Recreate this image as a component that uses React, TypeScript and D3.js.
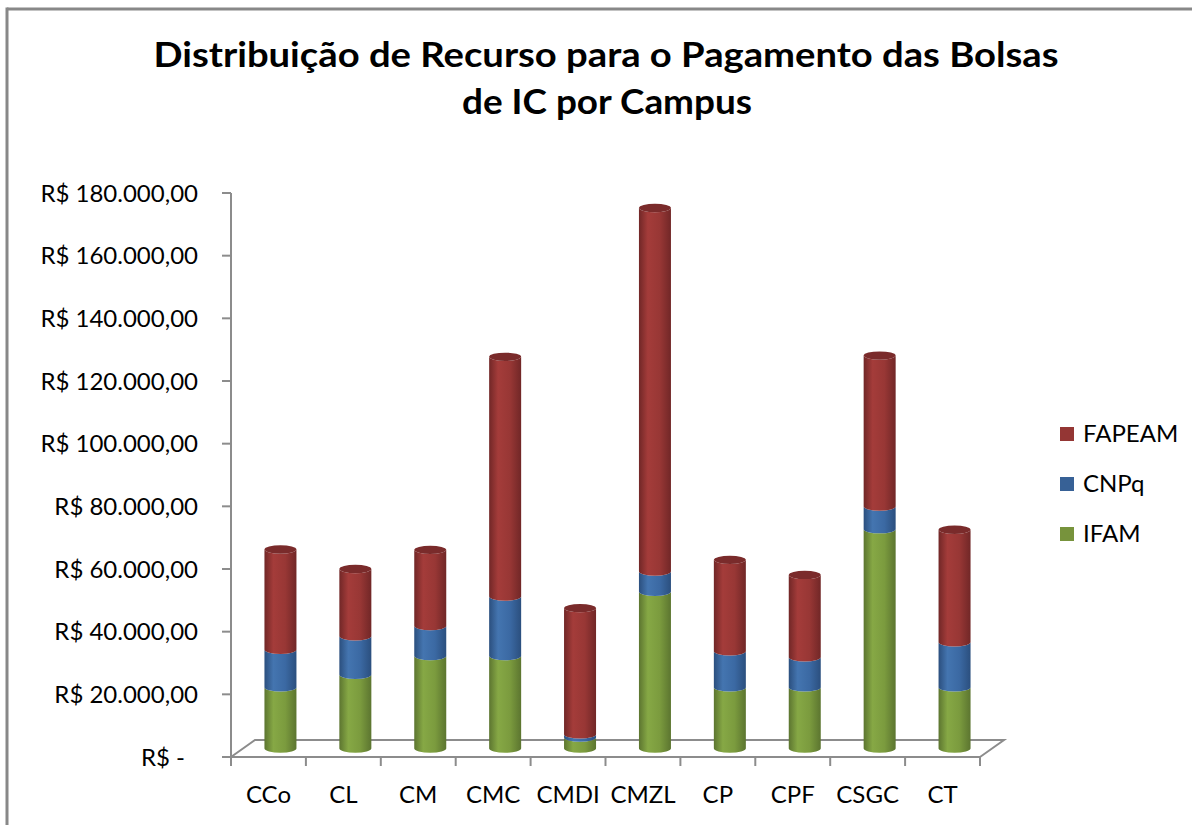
import React from "react";
import * as d3 from "d3";

const title1 = "Distribuição de Recurso para o Pagamento das Bolsas";
const title2 = "de IC por Campus";
const categories = ["CCo", "CL", "CM", "CMC", "CMDI", "CMZL", "CP", "CPF", "CSGC", "CT"];
const ifam = [19500, 23500, 29500, 29500, 3500, 50000, 19500, 19500, 70000, 19500];
const cnpq = [12000, 12300, 9600, 19000, 1000, 6500, 11500, 9600, 7200, 14400];
const fapeam = [32000, 21500, 24300, 76500, 40300, 116000, 29200, 26300, 48200, 35900];
const seriesNames = ["IFAM", "CNPq", "FAPEAM"];
const yTicks = [0, 20000, 40000, 60000, 80000, 100000, 120000, 140000, 160000, 180000];

const palette: Record<string, { dark: string; light: string; mid: string; top: string; legend: string }> = {
  IFAM: { dark: "#5c7530", light: "#86a845", mid: "#7b9b3e", top: "#6a8736", legend: "#77933c" },
  CNPq: { dark: "#2b4f7e", light: "#4475b0", mid: "#3b69a3", top: "#32598c", legend: "#376196" },
  FAPEAM: { dark: "#712727", light: "#a43c3a", mid: "#983735", top: "#7a2b2b", legend: "#943634" },
};

const fmt = (v: number) =>
  v === 0
    ? "R$ -"
    : "R$ " + d3.format(",.2f")(v).replace(/,/g, "#").replace(/\./g, ",").replace(/#/g, ".");

export default function App() {
  const W = 1192, H = 825;
  const font = "Lato, 'Open Sans', sans-serif";
  const x = d3.scaleBand<string>().domain(categories).range([231, 980]);
  const y = d3.scaleLinear().domain([0, 180000]).range([757, 193]);
  const depthX = 24, depthY = 17;
  const barDx = depthX / 2, barDy = depthY / 2;
  const rx = 16, ry = 4.2;

  const table = categories.map((c, i) => ({ cat: c, IFAM: ifam[i], CNPq: cnpq[i], FAPEAM: fapeam[i] }));
  const stacked = d3.stack<any>().keys(seriesNames)(table);

  const segs: JSX.Element[] = [];
  const tops: JSX.Element[] = [];
  stacked.forEach((layer, li) => {
    const key = layer.key;
    layer.forEach((d, i) => {
      const cat = categories[i];
      const cx = (x(cat) as number) + x.bandwidth() / 2 + barDx;
      const y0 = y(d[0]) - barDy;
      const y1 = y(d[1]) - barDy;
      if (d[1] - d[0] <= 0) return;
      const l = cx - rx, r = cx + rx;
      const p = `M${l},${y1} L${l},${y0} A${rx},${ry} 0 0 0 ${r},${y0} L${r},${y1} A${rx},${ry} 0 0 1 ${l},${y1} Z`;
      segs.push(<path key={key + i} d={p} fill={`url(#g-${key})`} />);
      if (li === stacked.length - 1) {
        tops.push(
          <ellipse key={"t" + i} cx={cx} cy={y1} rx={rx} ry={ry} fill={palette[key].top} />
        );
      }
    });
  });

  const axisColor = "#8c8c8c";
  const fx0 = 231, fx1 = 980, fy = 757;
  const ticksX = d3.range(categories.length + 1).map((i) => fx0 + i * x.step());

  return (
    <svg width={W} height={H} style={{ position: "absolute", left: 0, top: 0, background: "#fff" }}>
      <defs>
        {seriesNames.map((k) => (
          <linearGradient key={k} id={`g-${k}`} x1="0" x2="1" y1="0" y2="0">
            <stop offset="0%" stopColor={palette[k].dark} />
            <stop offset="28%" stopColor={palette[k].light} />
            <stop offset="65%" stopColor={palette[k].mid} />
            <stop offset="100%" stopColor={palette[k].dark} />
          </linearGradient>
        ))}
      </defs>
      <rect x={0} y={0} width={W} height={H} fill="#fff" />
      <line x1={7} x2={W} y1={9} y2={9} stroke="#888" strokeWidth={3} />
      <line x1={7} x2={7} y1={7.5} y2={H} stroke="#888" strokeWidth={3} />

      <text x={606} y={67} textAnchor="middle" fontFamily={font} fontWeight={700} fontSize={34} fill="#000"
        textLength={905} lengthAdjust="spacingAndGlyphs">
        {title1}
      </text>
      <text x={607} y={114} textAnchor="middle" fontFamily={font} fontWeight={700} fontSize={34} fill="#000"
        textLength={290} lengthAdjust="spacingAndGlyphs">
        {title2}
      </text>

      {/* floor */}
      <g stroke={axisColor} strokeWidth={2} fill="none">
        <path d={`M${fx0},${fy} L${fx0 + depthX},${fy - depthY} L${fx1 + depthX},${fy - depthY} L${fx1},${fy}`} />
        <line x1={fx0} x2={fx1} y1={fy} y2={fy} />
        {ticksX.map((t, i) => (
          <line key={i} x1={t} x2={t} y1={fy} y2={fy + 9} />
        ))}
        <line x1={fx0} x2={fx0} y1={y(180000)} y2={fy} />
        {yTicks.map((t) => (
          <line key={t} x1={fx0 - 9} x2={fx0} y1={y(t)} y2={y(t)} />
        ))}
      </g>

      {segs}
      {tops}

      {yTicks.map((t) => (
        <text
          key={t}
          x={t === 0 ? 185 : 198}
          y={y(t) + 8.5}
          textAnchor="end"
          fontFamily={font}
          fontSize={24}
          fill="#000"
        >
          {fmt(t)}
        </text>
      ))}

      {categories.map((c) => (
        <text
          key={c}
          x={(x(c) as number) + x.bandwidth() / 2}
          y={803}
          textAnchor="middle"
          fontFamily={font}
          fontSize={24}
          fill="#000"
        >
          {c}
        </text>
      ))}

      {[...seriesNames].reverse().map((k, i) => (
        <g key={k} transform={`translate(1060, ${427 + i * 50})`}>
          <rect x={0} y={0} width={14} height={14} fill={palette[k].legend} />
          <text x={23} y={15} fontFamily={font} fontSize={24} fill="#000">
            {k}
          </text>
        </g>
      ))}
    </svg>
  );
}
